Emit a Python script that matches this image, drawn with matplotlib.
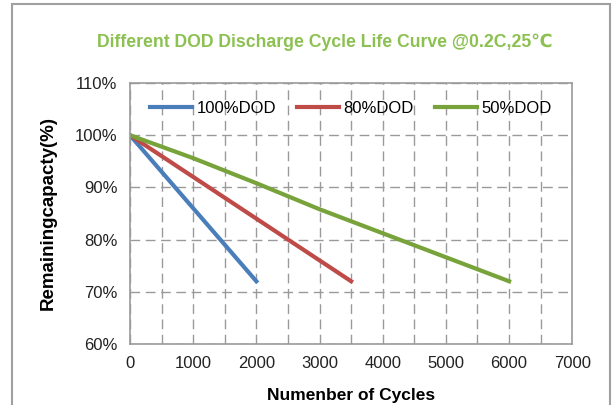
import matplotlib.pyplot as plt
from matplotlib.patches import Rectangle
from matplotlib.ticker import MultipleLocator, FuncFormatter

plt.rcParams['font.family'] = ['Liberation Sans', 'DejaVu Sans']

series_names = ['100%DOD', '80%DOD', '50%DOD']
cycles_100 = [0, 2000]
capacity_100 = [100, 72]
cycles_80 = [0, 3500]
capacity_80 = [100, 72]
cycles_50 = [0, 1000, 2000, 3000, 4000, 5000, 6000]
capacity_50 = [100, 95.6, 90.8, 85.8, 81.2, 76.6, 72]
colors = ['#4A7EBB', '#BE4B48', '#77A33A']

fig = plt.figure(figsize=(6.16, 4.05), dpi=100)
ax = fig.add_axes([0.211, 0.151, 0.718, 0.644])

# outer frame around the whole chart
fig.patches.append(Rectangle((0.02, -0.1), 0.97, 1.09, transform=fig.transFigure,
                             fill=False, edgecolor='#a0a0a0', linewidth=1.5))

ax.plot(cycles_100, capacity_100, color=colors[0], linewidth=3, label=series_names[0])
ax.plot(cycles_80, capacity_80, color=colors[1], linewidth=3, label=series_names[1])
ax.plot(cycles_50, capacity_50, color=colors[2], linewidth=3, label=series_names[2])

ax.set_xlim(0, 7000)
ax.set_ylim(60, 110)
ax.xaxis.set_major_locator(MultipleLocator(1000))
ax.xaxis.set_minor_locator(MultipleLocator(500))
ax.yaxis.set_major_locator(MultipleLocator(10))
ax.yaxis.set_major_formatter(FuncFormatter(lambda v, p: f'{v:.0f}%'))
ax.tick_params(which='both', length=0, labelsize=12, colors='#222222', pad=9)

ax.grid(which='both', axis='x', color='#9a9a9a', linestyle=(0, (7, 4)), linewidth=1)
ax.grid(which='major', axis='y', color='#9a9a9a', linestyle=(0, (7, 4)), linewidth=1)
ax.set_axisbelow(True)
for s in ax.spines.values():
    s.set_color('#9a9a9a')
    s.set_linewidth(1.2)

ax.set_xlabel('Numenber of Cycles', fontsize=12.5, fontweight='bold', labelpad=12)
ax.set_ylabel('Remainingcapacty(%)', fontsize=13.5, fontweight='bold', labelpad=13)
fig.text(0.527, 0.895, 'Different DOD Discharge Cycle Life Curve @0.2C,25\u2103',
         ha='center', va='center', fontsize=12.7, fontweight='bold', color='#8CC152',
         family=['Liberation Sans', 'DejaVu Sans'])

leg = ax.legend(loc='upper left', ncol=3, frameon=False, fontsize=12,
                handlelength=2.5, handletextpad=0.25, columnspacing=1.3,
                bbox_to_anchor=(0.02, 0.975), borderaxespad=0.3)

fig.savefig('out.png', dpi=100)
